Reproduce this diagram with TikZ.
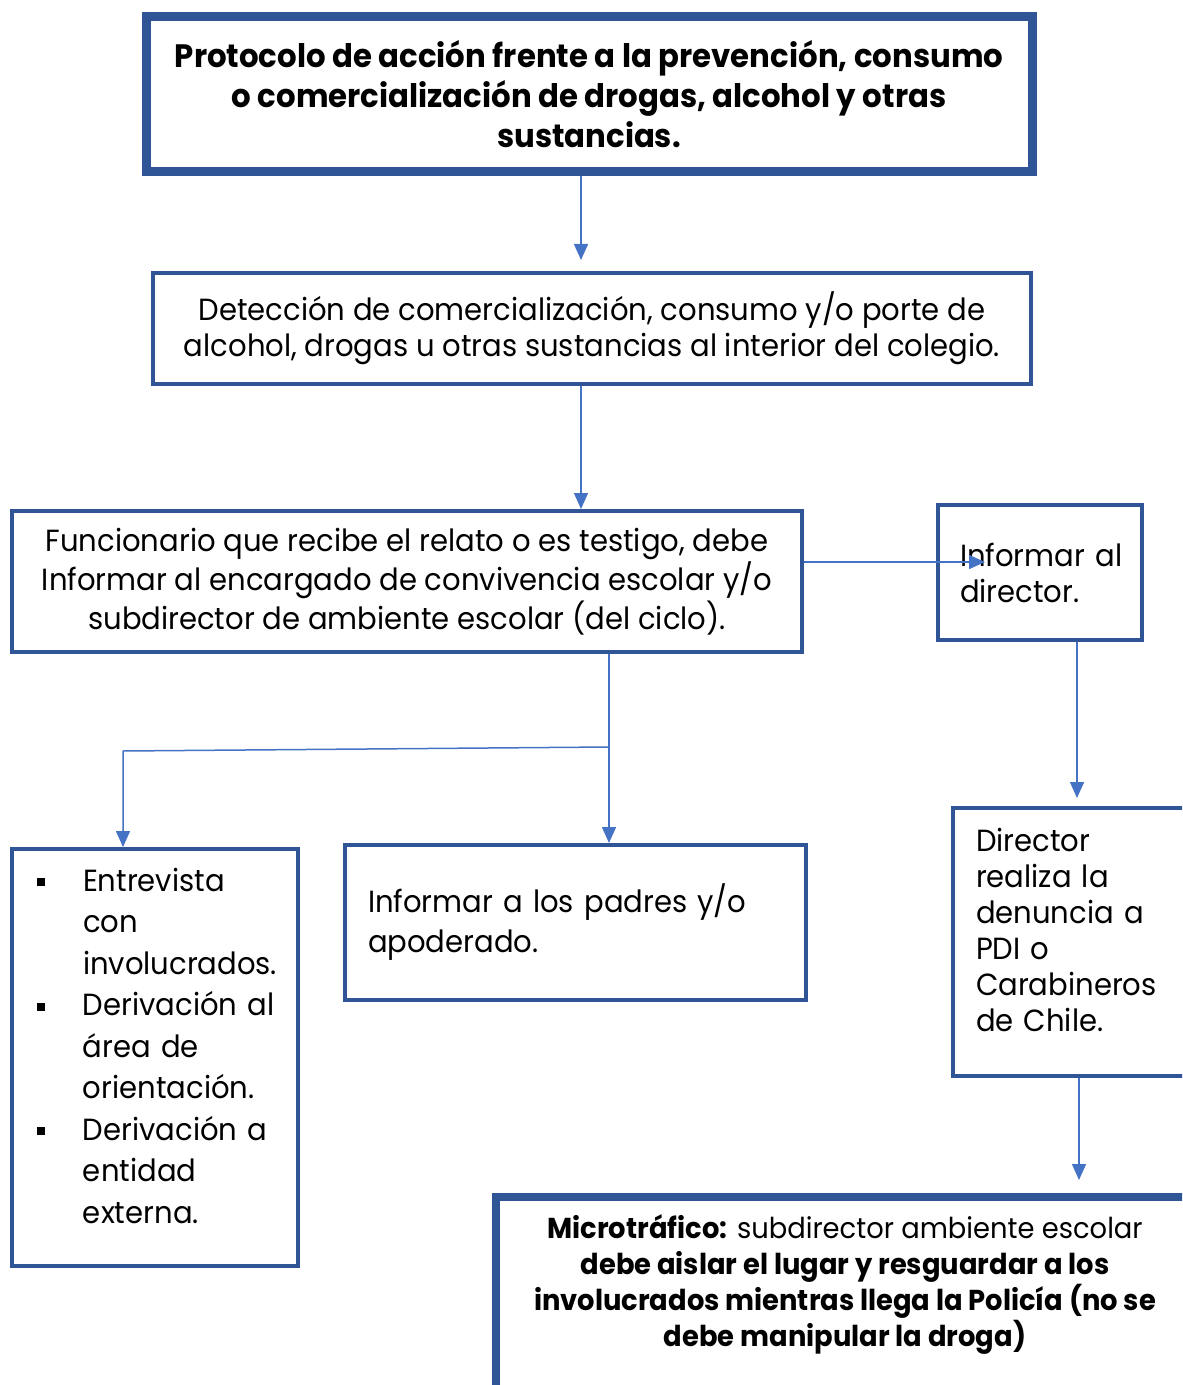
\documentclass[tikz,border=0pt]{standalone}
\usepackage{fontspec}
\setmainfont{Poppins}[FakeStretch=0.95]
\usetikzlibrary{arrows.meta}
\definecolor{bordeazul}{HTML}{2F5597}
\definecolor{flechaazul}{HTML}{4472C4}
\newcommand{\vineta}{\makebox[23pt][l]{\rule[0.15em]{4pt}{4pt}}}
\newcommand{\sangria}{\makebox[23pt]{}}
\newcommand{\finsubir}[1]{\endgraf\vspace*{#1}}
\begin{document}
\begin{tikzpicture}[x=0.5pt,y=-0.5pt,
    caja/.style={draw=bordeazul, line width=2pt, rectangle, inner sep=0pt,
      font=\fontsize{15.3}{18}\selectfont},
    cajagruesa/.style={caja, line width=4.5pt},
    subir/.style={execute at end node={\finsubir{#1}}},
    flecha/.style={draw=flechaazul, line width=0.75pt,
      -{Triangle[length=8pt,width=7pt]}}]
\useasboundingbox (0,0) rectangle (1182,1385);
\clip (0,0) rectangle (1182,1385);

% Drawing box titulo
\node [cajagruesa, minimum width=443pt, minimum height=77.5pt, align=center,
  font=\fontsize{16.2}{20}\selectfont\bfseries] (titulo) at (589,94.5)
  {Protocolo de acción frente a la prevención, consumo\\ o comercialización de drogas, alcohol y otras\\ sustancias.};%

% Drawing box deteccion
\node [caja, minimum width=439pt, minimum height=55.5pt, align=center] (deteccion) at (592,328.5)
  {Detección de comercialización, consumo y/o porte de\\ alcohol, drogas u otras sustancias al interior del colegio.};%

% Drawing box funcionario
\node [caja, minimum width=395pt, minimum height=70.5pt, align=center] (funcionario) at (407,581.5)
  {Funcionario que recibe el relato o es testigo, debe\\ Informar al encargado de convivencia escolar y/o\\ subdirector de ambiente escolar (del ciclo).};%

% Drawing box informar
\node [caja, minimum width=102pt, minimum height=67.5pt, text width=80pt, align=left] (informar) at (1040,572.5)
  {\mbox{Informar al}\\ director.};%

% Drawing box entrevista
\node [caja, minimum width=143pt, minimum height=208.5pt, text width=118pt, align=left, subir=12pt,
  font=\fontsize{15.3}{20.75}\selectfont] (entrevista) at (155,1057.5)
  {\mbox{\vineta Entrevista}\\ \mbox{\sangria con}\\ \mbox{\sangria involucrados.}\\
   \mbox{\vineta Derivación al}\\ \mbox{\sangria área de}\\ \mbox{\sangria orientación.}\\
   \mbox{\vineta Derivación a}\\ \mbox{\sangria entidad}\\ \mbox{\sangria externa.}};%

% Drawing box padres
\node [caja, minimum width=230.5pt, minimum height=77.5pt, text width=207.5pt, align=left,
  font=\fontsize{15.3}{20}\selectfont] (padres) at (575.5,922.5)
  {\mbox{Informar a los padres y/o}\\ apoderado.};%

% Drawing box denuncia
\node [caja, minimum width=123pt, minimum height=134pt, text width=100pt, align=left, subir=12pt] (denuncia) at (1076,942)
  {Director\\ \mbox{realiza la}\\ \mbox{denuncia a}\\ \mbox{PDI o}\\ Carabineros\\ \mbox{de Chile.}};%

% Drawing box micro
\node [caja, line width=4pt, anchor=north, minimum width=349pt, inner ysep=9pt, text depth=100pt,
  align=center, font=\fontsize{14.4}{18}\selectfont] (micro) at (845,1193)
  {\textbf{Microtráfico:} subdirector ambiente escolar\\ \textbf{debe aislar el lugar y resguardar a los}\\
   \textbf{involucrados mientras llega la Policía (no se}\\ \textbf{debe manipular la droga)}};%

% Drawing arrows
\coordinate (bajada) at (581,0);
\coordinate (punta) at (985,562);
\coordinate (cruce) at (609,747);
\coordinate (codo) at (123,751);
\coordinate (bajadados) at (1077,0);
\coordinate (bajadatres) at (1079,0);
\draw [flecha, shorten >=5.5pt] (titulo.south -| bajada) -- (deteccion.north -| bajada);%
\draw [flecha] (deteccion.south -| bajada) -- (funcionario.north -| bajada);%
\draw [flecha] (funcionario.east |- punta) -- (punta);%
\draw [flecha] (funcionario.south -| cruce) -- (padres.north -| cruce);%
\draw [flecha] (cruce) -- (codo) -- (entrevista.north -| codo);%
\draw [flecha, shorten >=4pt] (informar.south -| bajadados) -- (denuncia.north -| bajadados);%
\draw [flecha, shorten >=6.5pt] (denuncia.south -| bajadatres) -- (micro.north -| bajadatres);%
\end{tikzpicture}
\end{document}
